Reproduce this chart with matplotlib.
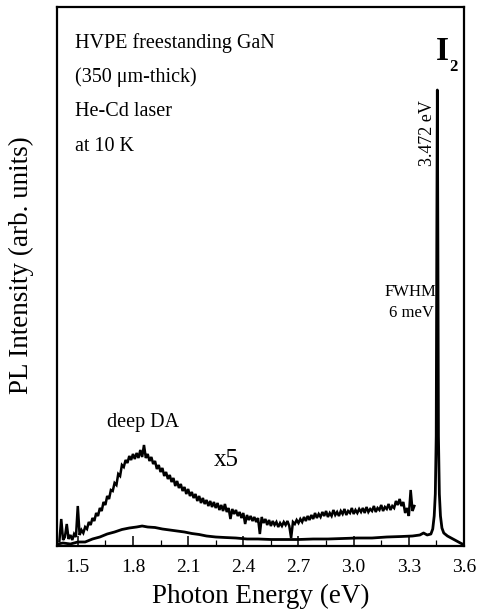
import numpy as np
import matplotlib
matplotlib.use("Agg")
import matplotlib.pyplot as plt
from matplotlib.ticker import MultipleLocator, NullLocator

# ---------------- data (arb. units) ----------------
# x5 magnified deep-level band, sampled every 0.01 eV from 1.40 to 3.33 eV
x5_start, x5_end = 1.40, 3.33
x5_values = [
    5, 27, 6, 9, 22, 7, 11, 6, 12, 9,            # 1.40-1.49
    40, 11, 16, 13, 19, 17, 24, 21, 28, 25,      # 1.50-1.59
    33, 30, 38, 35, 44, 41, 50, 47, 56, 55,      # 1.60-1.69
    63, 61, 72, 70, 81, 79, 86, 83, 90, 86,      # 1.70-1.79
    92, 87, 93, 88, 96, 89, 101, 88, 92, 85,     # 1.80-1.89
    89, 82, 85, 77, 81, 74, 78, 70, 74, 67,      # 1.90-1.99
    71, 64, 68, 60, 65, 58, 62, 55, 59, 52,      # 2.00-2.09
    57, 50, 54, 48, 52, 45, 50, 43, 48, 42,      # 2.10-2.19
    46, 40, 45, 39, 44, 38, 43, 36, 41, 35,      # 2.20-2.29
    42, 34, 38, 27, 37, 32, 36, 30, 34, 28,      # 2.30-2.39
    33, 22, 31, 26, 30, 25, 29, 24, 28, 12,      # 2.40-2.49
    29, 23, 27, 21, 26, 20, 25, 21, 24, 19,      # 2.50-2.59
    23, 20, 24, 21, 25, 20, 8, 24, 22, 26,       # 2.60-2.69
    23, 27, 24, 29, 25, 30, 26, 31, 27, 33,      # 2.70-2.79
    28, 32, 29, 34, 30, 35, 29, 33, 30, 36,      # 2.80-2.89
    31, 34, 30, 35, 32, 37, 31, 35, 33, 38,      # 2.90-2.99
    32, 36, 33, 37, 34, 38, 33, 39, 34, 37,      # 3.00-3.09
    35, 40, 34, 38, 36, 41, 35, 39, 37, 42,      # 3.10-3.19
    36, 40, 38, 45, 41, 47, 40, 44, 33, 38,      # 3.20-3.29
    30, 56, 35, 40,                              # 3.30-3.33
]

# x1 full spectrum (deep band + I2 bound exciton line)
x1_energy = [1.39, 1.42, 1.46, 1.50, 1.54, 1.58, 1.62, 1.66, 1.70, 1.74,
             1.78, 1.82, 1.85, 1.88, 1.92, 1.96, 2.00, 2.04, 2.08, 2.12,
             2.16, 2.20, 2.25, 2.30, 2.36, 2.42, 2.48, 2.55, 2.62, 2.70,
             2.78, 2.86, 2.94, 3.02, 3.10, 3.18, 3.26, 3.32, 3.36, 3.38,
             3.40, 3.42, 3.43, 3.438, 3.444, 3.449, 3.452, 3.455, 3.458, 3.461,
             3.466, 3.472, 3.48, 3.49, 3.51, 3.53, 3.56, 3.59, 3.60]
x1_values = [2, 3, 2, 4, 4, 7, 9, 12, 14, 16.5,
             18, 19, 20, 19, 18.5, 17, 16, 15, 14, 12.5,
             11.5, 10, 9, 8.5, 8, 7, 7, 6.5, 6.5, 6.5,
             7, 7, 7.5, 8, 8, 9, 9.5, 10, 11, 13,
             11, 12, 17, 30, 52, 110, 300, 456, 300, 110,
             52, 30, 18, 13, 10, 8, 5, 2, 2]

x_ticks = [1.5, 1.8, 2.1, 2.4, 2.7, 3.0, 3.3, 3.6]
x_tick_labels = ["1.5", "1.8", "2.1", "2.4", "2.7", "3.0", "3.3", "3.6"]

info_lines = ["HVPE freestanding GaN", "(350 \u03bcm-thick)", "He-Cd laser", "at 10 K"]

# ---------------- figure ----------------
W, H = 478, 615
fig = plt.figure(figsize=(W / 100, H / 100), dpi=100)
serif = ["Liberation Serif", "DejaVu Serif"]
plt.rcParams["font.family"] = serif

L, R, T, B = 57, 464, 7, 546
ax = fig.add_axes([L / W, 1 - B / H, (R - L) / W, (B - T) / H])

x5_energy = np.linspace(x5_start, x5_end, len(x5_values))
ax.plot(x5_energy, x5_values, color="black", lw=1.8, solid_joinstyle="miter")
ax.plot(x1_energy, x1_values, color="black", lw=2.0)

ax.set_xlim(1.387, 3.6)
ax.set_ylim(0, 539)

ax.set_xticks(x_ticks)
ax.set_xticklabels(x_tick_labels)
ax.xaxis.set_minor_locator(MultipleLocator(0.15))
ax.yaxis.set_major_locator(NullLocator())
ax.tick_params(axis="x", which="major", direction="in", length=7, width=1.1,
               labelsize=14, pad=9, top=False)
ax.tick_params(axis="x", which="minor", direction="in", length=4, width=0.9, top=False)
for s in ax.spines.values():
    s.set_linewidth(1.6)

ax.set_xlabel("Photon Energy (eV)", fontsize=19.5, labelpad=6)

def ftext(px, py, s, **kw):
    fig.text(px / W, 1 - py / H, s, **kw)

ftext(21, 265, "PL Intensity (arb. units)", rotation=90,
      ha="center", va="center", fontsize=19.5)

for i, line in enumerate(info_lines):
    ftext(75, 43 + i * 34.5, line, ha="left", va="center", fontsize=14.5)

ftext(442, 51, "I", ha="center", va="center", fontsize=24, fontweight="bold")
ftext(453.5, 67, "2", ha="center", va="center", fontsize=12, fontweight="bold")
ftext(428, 133, "3.472 eV", ha="center", va="center", rotation=90, fontsize=13)
ftext(410, 292, "FWHM", ha="center", va="center", fontsize=12)
ftext(411, 313, "6 meV", ha="center", va="center", fontsize=12)
ftext(143, 423, "deep DA", ha="center", va="center", fontsize=14.5)
ftext(226, 460, "x5", ha="center", va="center", fontsize=18)

fig.savefig("out.png", dpi=100)
